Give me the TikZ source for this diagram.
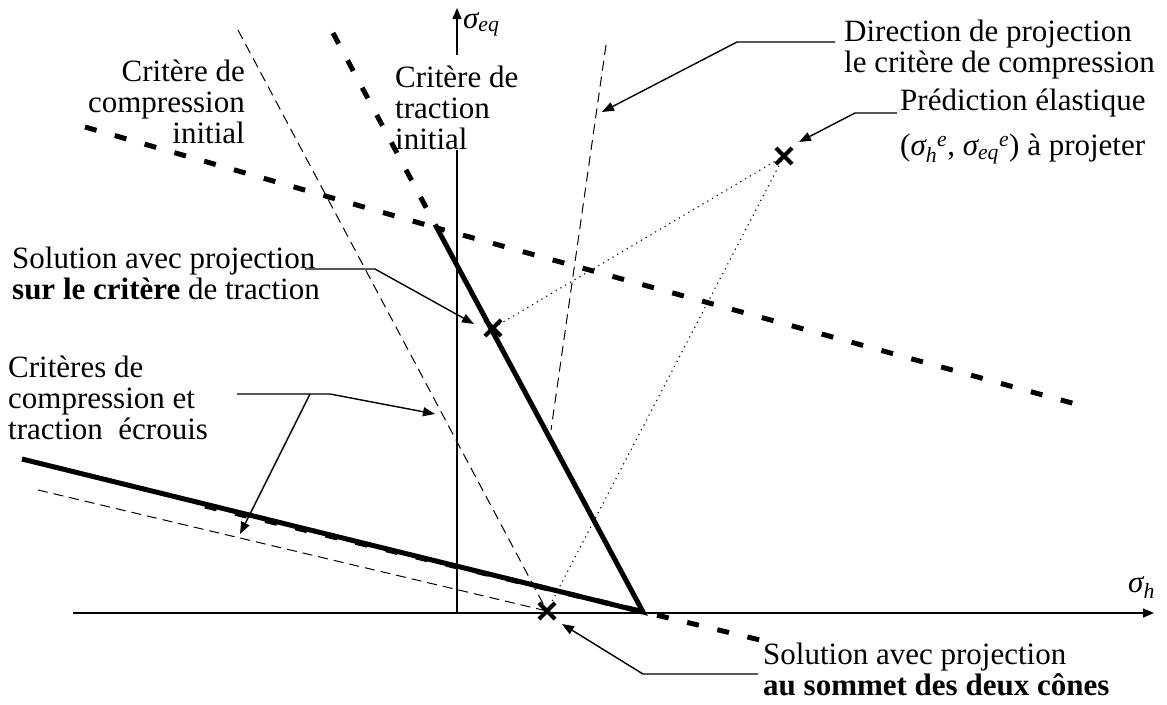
\documentclass[tikz,border=0pt]{standalone}
\usepackage{fontspec}
\setmainfont{Liberation Serif}
\usetikzlibrary{arrows.meta,shapes.misc}
\begin{document}
\begin{tikzpicture}[x=1pt,y=-1pt,
  lbl/.style={inner sep=0pt, font=\fontsize{31}{31}\selectfont, align=left},
  axisline/.style={line width=1.5pt, -{Triangle[length=11pt,width=9pt]}},
  leader/.style={line width=1.4pt, -{Triangle[length=12pt,width=9pt]}},
  thickdash/.style={line width=5pt, dash pattern=on 12pt off 19pt},
  thickline/.style={line width=5pt, line join=miter},
  thindash/.style={line width=1pt, dash pattern=on 10pt off 6pt},
  dotline/.style={line width=1.1pt, dash pattern=on 1.2pt off 4.3pt},
  xmark/.style={cross out, draw, line width=4.2pt, minimum size=12pt, inner sep=0pt}
]
\useasboundingbox (0,0) rectangle (1167,704);

% axes
\coordinate (O) at (457,613);
\coordinate (hstart) at (73,613);
\coordinate (hend) at (1154,613);
\coordinate (vend) at (457,8);
\draw[axisline] (hstart) -- (hend);
\draw[axisline] (O) -- (vend);
\node[anchor=base west, inner sep=0pt, font=\fontsize{31}{31}\selectfont] (seq) at (463,28) {{\itshape σ}\textsubscript{\itshape eq}};
\node[anchor=base west, inner sep=0pt, font=\fontsize{31}{31}\selectfont] (sh) at (1128,592) {{\itshape σ}\textsubscript{\itshape h}};

% label that masks the vertical axis
\node[lbl, fill=white, anchor=south west] (ltr) at (395,150) {\rule{0pt}{32pt}Critère de\\traction\\initial};

% marks
\node[xmark] (xel) at (784,156) {};
\node[xmark] (xtr) at (493,328) {};
\node[xmark] (xap) at (547,611) {};

% thin dashed lines
\coordinate (d1a) at (238,30);
\coordinate (d2a) at (38,490);
\coordinate (pa) at (606,45);
\coordinate (pb) at (551,430);
\draw[thindash] (d1a) -- (xap.center);
\draw[thindash] (d2a) -- (xap.center);
\draw[thindash] (pa) -- (pb);

% dotted projection lines
\draw[dotline] (xel.center) -- (xtr.center);
\draw[dotline] (xel.center) -- (xap.center);

% initial criteria (thick dashed)
\coordinate (ci1) at (85,127);
\coordinate (ti1) at (333,33);
\coordinate (iap) at (437,228);
\coordinate (ci2) at (1090,408);
\draw[thickdash] (ti1) -- (iap) -- (ci2);
\draw[thickdash] (ci1) -- (iap);

% hardened criteria
\coordinate (hc1) at (205,506);
\coordinate (hc2) at (760,640);
\coordinate (hl) at (22,459);
\coordinate (hap) at (643,612);
\draw[thickdash] (hc1) -- (hc2);
\draw[thickline] (hl) -- (hap) -- (iap);

% labels
\node[lbl, align=right, anchor=north east] (lci) at (245,60) {Critère de\\compression\\initial};
\node[lbl, anchor=north west] (ldir) at (844,19.5) {Direction de projection\\le critère de compression};
\node[lbl, anchor=north west] (lpred) at (900,89) {Prédiction élastique\\[14pt]({\itshape σ}\textsubscript{\itshape h}\textsuperscript{\itshape e}, {\itshape σ}\textsubscript{\itshape eq}\textsuperscript{\itshape e}) à projeter};
\node[lbl, anchor=north west] (lsol1) at (12,247) {Solution avec projection\\\textbf{sur le critère} de traction};
\node[lbl, anchor=north west] (lecr) at (8,356) {Critères de\\compression et\\traction\ \ écrouis};
\node[lbl, anchor=north west] (lsol2) at (763,643) {Solution avec projection\\\textbf{au sommet des deux cônes}};

% leaders
\coordinate (a1s) at (835,42);
\coordinate (a1b) at (737,42);
\coordinate (a1t) at (602,112);
\draw[leader] (a1s) -- (a1b) -- (a1t);

\coordinate (a2s) at (897,113);
\coordinate (a2b) at (855,113);
\draw[leader] (a2s) -- (a2b) -- ([shift={(15,-14)}]xel.center);

\coordinate (a3s) at (305,269);
\coordinate (a3b) at (375,269);
\draw[leader] (a3s) -- (a3b) -- ([shift={(-19,-4)}]xtr.center);

\coordinate (a4s) at (237,394);
\coordinate (a4b) at (330,394);
\coordinate (a4k) at (310,394);
\coordinate (a4t) at (435,414);
\coordinate (a4u) at (240,534);
\draw[leader] (a4s) -- (a4b) -- (a4t);
\draw[leader] (a4k) -- (a4u);

\coordinate (a5s) at (758,674);
\coordinate (a5b) at (643,674);
\draw[leader] (a5s) -- (a5b) -- ([shift={(15,13)}]xap.center);
\end{tikzpicture}
\end{document}
